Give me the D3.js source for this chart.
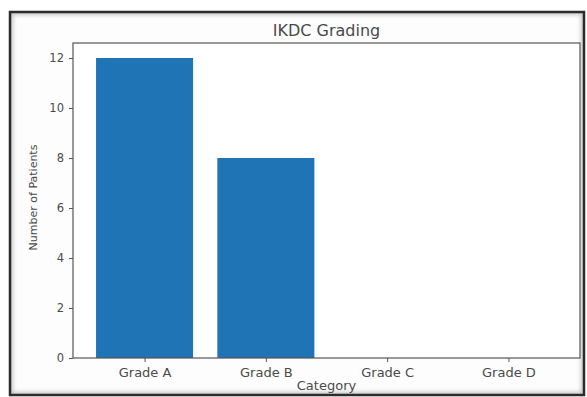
<!DOCTYPE html>
<html>
<head>
<meta charset="utf-8">
<script src="https://cdn.jsdelivr.net/npm/d3@7"></script>
<style>
  html, body { margin: 0; padding: 0; background: #fff; }
  svg { display: block; font-family: "DejaVu Sans", sans-serif; }
</style>
</head>
<body>
<svg id="chart" width="587" height="397"></svg>
<script>
// IKDC grading results: patient counts per grade
const categories = ["Grade A", "Grade B", "Grade C", "Grade D"];
const patients = [12, 8, 0, 0];
const yTicks = [0, 2, 4, 6, 8, 10, 12];

const svg = d3.select("#chart");
const plot = { left: 73, top: 43, right: 580, bottom: 358 };
const frame = { x: 10, y: 12, w: 574, h: 383 };

// picture frame with a soft inner shadow
const defs = svg.append("defs");
const f = defs.append("filter").attr("id", "soft")
  .attr("x", "-5%").attr("y", "-5%").attr("width", "110%").attr("height", "110%");
f.append("feGaussianBlur").attr("stdDeviation", 2);
defs.append("clipPath").attr("id", "inner")
  .append("rect").attr("x", frame.x).attr("y", frame.y).attr("width", frame.w).attr("height", frame.h);

svg.append("rect").attr("x", frame.x).attr("y", frame.y).attr("width", frame.w).attr("height", frame.h)
  .attr("fill", "#fdfdfd");
svg.append("g").attr("clip-path", "url(#inner)")
  .append("rect").attr("x", frame.x).attr("y", frame.y).attr("width", frame.w).attr("height", frame.h)
  .attr("fill", "none").attr("stroke", "#c4c4c4").attr("stroke-width", 6)
  .attr("filter", "url(#soft)");
svg.append("rect").attr("x", frame.x).attr("y", frame.y).attr("width", frame.w).attr("height", frame.h)
  .attr("fill", "none").attr("stroke", "#2b2b2b").attr("stroke-width", 2.5);

// axes area
svg.append("rect")
  .attr("x", plot.left).attr("y", plot.top)
  .attr("width", plot.right - plot.left).attr("height", plot.bottom - plot.top)
  .attr("fill", "#ffffff");

// x: linear over category index, bars 0.8 wide, 5% margins
const n = categories.length;
const barW = 0.8;
const lo = -barW / 2, hi = (n - 1) + barW / 2;
const pad = (hi - lo) * 0.05;
const x = d3.scaleLinear().domain([lo - pad, hi + pad]).range([plot.left, plot.right]);
const yMax = d3.max(patients) * 1.05;
const y = d3.scaleLinear().domain([0, yMax]).range([plot.bottom, plot.top]);

const data = categories.map((c, i) => ({ c, i, v: patients[i] }));

svg.append("g").selectAll("rect")
  .data(data)
  .join("rect")
  .attr("x", d => x(d.i - barW / 2))
  .attr("width", d => x(d.i + barW / 2) - x(d.i - barW / 2))
  .attr("y", d => y(d.v))
  .attr("height", d => y(0) - y(d.v))
  .attr("fill", "#1f74b6");

// spines
svg.append("rect")
  .attr("x", plot.left).attr("y", plot.top)
  .attr("width", plot.right - plot.left).attr("height", plot.bottom - plot.top)
  .attr("fill", "none").attr("stroke", "#555").attr("stroke-width", 1.2);

// y axis
const yAxis = svg.append("g")
  .attr("transform", `translate(${plot.left},0)`)
  .call(d3.axisLeft(y).tickValues(yTicks).tickSize(4).tickPadding(5).tickFormat(d3.format("d")));
yAxis.select(".domain").remove();
yAxis.selectAll("line").attr("stroke", "#555");
yAxis.selectAll("text").attr("fill", "#4a4a4a").style("font-size", "11.5px")
  .style("font-family", "DejaVu Sans, sans-serif");

// x axis
const xAxis = svg.append("g")
  .attr("transform", `translate(0,${plot.bottom})`)
  .call(d3.axisBottom(x).tickValues(d3.range(n)).tickSize(4).tickPadding(6)
    .tickFormat(i => categories[i]));
xAxis.select(".domain").remove();
xAxis.selectAll("line").attr("stroke", "#555");
xAxis.selectAll("text").attr("fill", "#4a4a4a").style("font-size", "13px")
  .style("font-family", "DejaVu Sans, sans-serif");

// title and axis labels
svg.append("text")
  .attr("x", (plot.left + plot.right) / 2).attr("y", 36)
  .attr("text-anchor", "middle").attr("fill", "#4a4a4a")
  .style("font-size", "16px")
  .text("IKDC Grading");

svg.append("text")
  .attr("x", (plot.left + plot.right) / 2).attr("y", 390)
  .attr("text-anchor", "middle").attr("fill", "#4a4a4a")
  .style("font-size", "13px")
  .text("Category");

svg.append("text")
  .attr("transform", `translate(37,${(plot.top + plot.bottom) / 2 - 3}) rotate(-90)`)
  .attr("text-anchor", "middle").attr("fill", "#4a4a4a")
  .style("font-size", "11px")
  .text("Number of Patients");
</script>
</body>
</html>
